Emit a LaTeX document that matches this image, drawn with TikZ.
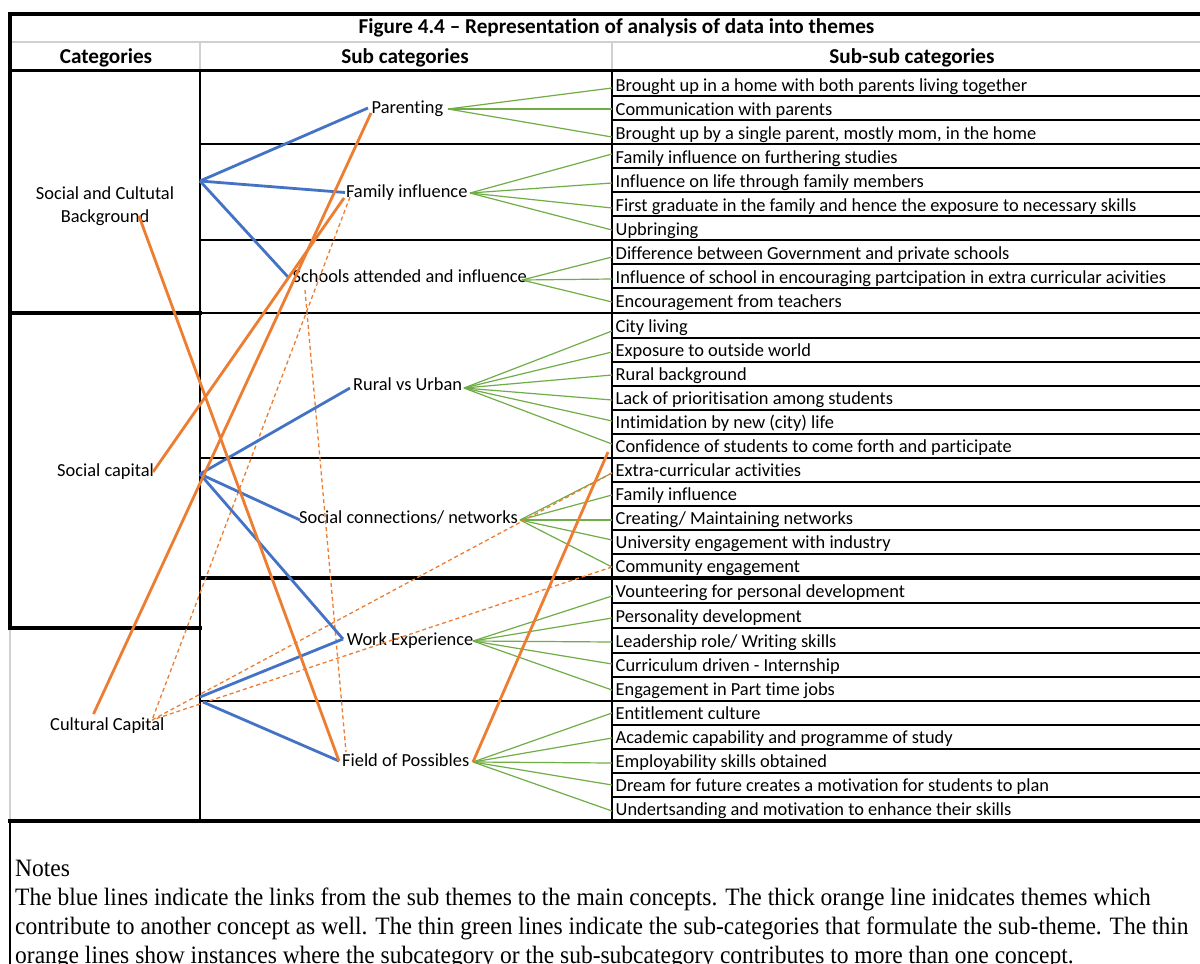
\documentclass[tikz,border=0pt]{standalone}
\usepackage{fontspec}
\setmainfont[Ligatures=NoCommon]{Carlito}
\newfontfamily\notesfont[FakeStretch=0.94]{Liberation Serif}
\definecolor{xblue}{HTML}{4472C4}
\definecolor{xorange}{HTML}{ED7D31}
\definecolor{xgreen}{HTML}{70AD47}
\definecolor{xgray}{HTML}{D0D0D0}
\begin{document}
\begin{tikzpicture}[x=1pt,y=-1pt,
  rule/.style={draw=black,line width=1.6pt},
  thickrule/.style={draw=black,line width=3.6pt},
  grayrule/.style={draw=xgray,line width=1.6pt},
  txt/.style={inner sep=0pt,anchor=base west,font=\fontsize{18.4}{22}\selectfont},
  ctxt/.style={inner sep=0pt,anchor=base,font=\fontsize{18.4}{22}\selectfont},
  head/.style={inner sep=0pt,anchor=base,font=\fontsize{21.2}{24}\selectfont\bfseries},
  note/.style={inner sep=0pt,anchor=base west,font=\notesfont\fontsize{25}{29}\selectfont},
  bluelink/.style={draw=xblue,line width=2.8pt},
  orangelink/.style={draw=xorange,line width=2.8pt},
  orangedash/.style={draw=xorange,line width=1.3pt,dash pattern=on 4pt off 3pt},
  greenlink/.style={draw=xgreen,line width=1.2pt}]
\useasboundingbox (0,0) rectangle (1200,964);
\fill[white] (0,0) rectangle (1200,964);

% ---------- table rules ----------
\draw[grayrule] (10,42) -- (1205,42);
\draw[grayrule] (200,42) -- (200,70);
\draw[grayrule] (612,42) -- (612,70);
\draw[grayrule] (10,628) -- (10,821);
\draw[thickrule] (8.2,14) -- (1205,14);
\draw[thickrule] (10,12.2) -- (10,629.8);
\draw[thickrule] (8.2,70.5) -- (1205,70.5);
\draw[rule] (10,821) -- (10,970);
\draw[rule] (200,70) -- (200,821);
\draw[rule] (612,70) -- (612,821);
\draw[thickrule] (10,313) -- (202,313);
\draw[thickrule] (10,628) -- (202,628);
\foreach \yy in {144,240,313,458,701} \draw[rule] (200,\yy) -- (612,\yy);
\foreach \yy in {96,120,144,168,192,216,240,264,288,313,338,362,386,410,434,458,482,506,530,554,603,628,653,677,701,725,749,773,797}
  \draw[rule] (612,\yy) -- (1205,\yy);
\draw[thickrule] (200,578) -- (1205,578);
\draw[thickrule] (8.2,821) -- (1205,821);

% ---------- headings ----------
\node[head] (title) at (616.5,33.5) {Figure 4.4 – Representation of analysis of data into themes};
\node[head] (hcat) at (106,63.5) {Categories};
\node[head] (hsub) at (405,63.5) {Sub categories};
\node[head] (hssub) at (912,63.5) {Sub-sub categories};

% ---------- categories ----------
\node[ctxt] (scb1) at (105,199) {Social and Cultutal};
\node[ctxt] (scb2) at (105,222.7) {Background};
\node[txt] (sc) at (57,476) {Social capital};
\node[txt] (cc) at (50,730.5) {Cultural Capital};

% ---------- sub categories ----------
\node[txt] (par) at (371.5,113.3) {Parenting};
\node[txt] (fi) at (345.8,197.3) {Family influence};
\node[txt] (sch) at (292.5,282.7) {Schools attended and influence};
\node[txt] (ru) at (353,390.7) {Rural vs Urban};
\node[txt] (sn) at (299,523.3) {Social connections/ networks};
\node[txt] (we) at (346.7,645) {Work Experience};
\node[txt] (fop) at (342,766.7) {Field of Possibles};

% ---------- sub-sub categories ----------
\node[txt] (s1) at (615.5,91) {Brought up in a home with both parents living together};
\node[txt] (s2) at (615.5,115) {Communication with parents};
\node[txt] (s3) at (615.5,139) {Brought up by a single parent, mostly mom, in the home};
\node[txt] (s4) at (615.5,163) {Family influence on furthering studies};
\node[txt] (s5) at (615.5,187) {Influence on life through family members};
\node[txt] (s6) at (615.5,211) {First graduate in the family and hence the exposure to necessary skills};
\node[txt] (s7) at (615.5,235) {Upbringing};
\node[txt] (s8) at (615.5,259) {Difference between Government and private schools};
\node[txt] (s9) at (615.5,283) {Influence of school in encouraging partcipation in extra curricular acivities};
\node[txt] (s10) at (615.5,307.5) {Encouragement from teachers};
\node[txt] (s11) at (615.5,332.5) {City living};
\node[txt] (s12) at (615.5,356.5) {Exposure to outside world};
\node[txt] (s13) at (615.5,380.5) {Rural background};
\node[txt] (s14) at (615.5,404.5) {Lack of prioritisation among students};
\node[txt] (s15) at (615.5,428.5) {Intimidation by new (city) life};
\node[txt] (s16) at (615.5,452.5) {Confidence of students to come forth and participate};
\node[txt] (s17) at (615.5,476.5) {Extra-curricular activities};
\node[txt] (s18) at (615.5,500.5) {Family influence};
\node[txt] (s19) at (615.5,524.5) {Creating/ Maintaining networks};
\node[txt] (s20) at (615.5,548.5) {University engagement with industry};
\node[txt] (s21) at (615.5,572.5) {Community engagement};
\node[txt] (s22) at (615.5,597.5) {Vounteering for personal development};
\node[txt] (s23) at (615.5,622.5) {Personality development};
\node[txt] (s24) at (615.5,647.5) {Leadership role/ Writing skills};
\node[txt] (s25) at (615.5,671.5) {Curriculum driven - Internship};
\node[txt] (s26) at (615.5,695.5) {Engagement in Part time jobs};
\node[txt] (s27) at (615.5,719.5) {Entitlement culture};
\node[txt] (s28) at (615.5,743.5) {Academic capability and programme of study};
\node[txt] (s29) at (615.5,767.5) {Employability skills obtained};
\node[txt] (s30) at (615.5,791.5) {Dream for future creates a motivation for students to plan};
\node[txt] (s31) at (615.5,815.5) {Undertsanding and motivation to enhance their skills};

% ---------- connector end points ----------
\coordinate (scbhub) at (200,181);
\coordinate (schub) at (200,474);
\coordinate (cchubA) at (200,697);
\coordinate (cchubB) at (203,702);
\coordinate (parin) at (368,108);
\coordinate (fiin) at (345,192.5);
\coordinate (schin) at (288,277);
\coordinate (ruin) at (350,388);
\coordinate (snin) at (300,520);
\coordinate (wein) at (343,639);
\coordinate (fopin) at (339,761);
\coordinate (parout) at (448,109);
\coordinate (fiout) at (470,193);
\coordinate (schout) at (522,280);
\coordinate (ruout) at (464,388);
\coordinate (snout) at (520,520);
\coordinate (weout) at (473,641);
\coordinate (fopout) at (473,762);
\coordinate (scbo) at (139,216);
\coordinate (sco) at (153,472);
\coordinate (cco) at (93.5,714);
\coordinate (fio) at (344,198);
\coordinate (paro) at (371,113);
\coordinate (confo) at (608,452);
\coordinate (fid) at (350,197);
\coordinate (schd) at (305,290);
\coordinate (fopd) at (346,752);
\coordinate (ccd) at (152,720);
\foreach \k/\yy in {1/88,2/109,3/137,4/154,5/183,6/208,7/230,8/257,9/279,10/302,11/331,12/352,13/375,14/400,15/421,16/444,17/473,18/495,19/520,20/540,21/567,22/596,23/618,24/642,25/664,26/690,27/713,28/738,29/763,30/785,31/811}
  \coordinate (g\k) at (612,\yy);

% ---------- green links ----------
\foreach \k in {1,2,3} \draw[greenlink] (parout) -- (g\k);
\foreach \k in {4,5,6,7} \draw[greenlink] (fiout) -- (g\k);
\foreach \k in {8,9,10} \draw[greenlink] (schout) -- (g\k);
\foreach \k in {11,...,16} \draw[greenlink] (ruout) -- (g\k);
\foreach \k in {17,...,21} \draw[greenlink] (snout) -- (g\k);
\foreach \k in {22,...,26} \draw[greenlink] (weout) -- (g\k);
\foreach \k in {27,...,31} \draw[greenlink] (fopout) -- (g\k);

% ---------- thin orange dashed ----------
\draw[orangedash] (fid) -- (ccd);
\draw[orangedash] (schd) -- (fopd);
\draw[orangedash] (g17) -- (ccd);
\draw[orangedash] (g21) -- (ccd);

% ---------- blue links ----------
\draw[bluelink] (scbhub) -- (parin);
\draw[bluelink] (scbhub) -- (fiin);
\draw[bluelink] (scbhub) -- (schin);
\draw[bluelink] (schub) -- (ruin);
\draw[bluelink] (schub) -- (snin);
\draw[bluelink] (schub) -- (wein);
\draw[bluelink] (cchubA) -- (wein);
\draw[bluelink] (cchubB) -- (fopin);

% ---------- thick orange ----------
\draw[orangelink] (scbo) -- (fopin);
\draw[orangelink] (sco) -- (fio);
\draw[orangelink] (cco) -- (paro);
\draw[orangelink] (fopout) -- (confo);

% ---------- notes ----------
\node[note] (notes) at (15,876) {Notes};
\node[note] (n1) at (15,905) {The blue lines indicate the links from the sub themes to the main concepts. The thick orange line inidcates themes which};
\node[note] (n2) at (15,934) {contribute to another concept as well. The thin green lines indicate the sub-categories that formulate the sub-theme. The thin};
\node[note] (n3) at (15,963) {orange lines show instances where the subcategory or the sub-subcategory contributes to more than one concept.};
\end{tikzpicture}
\end{document}
